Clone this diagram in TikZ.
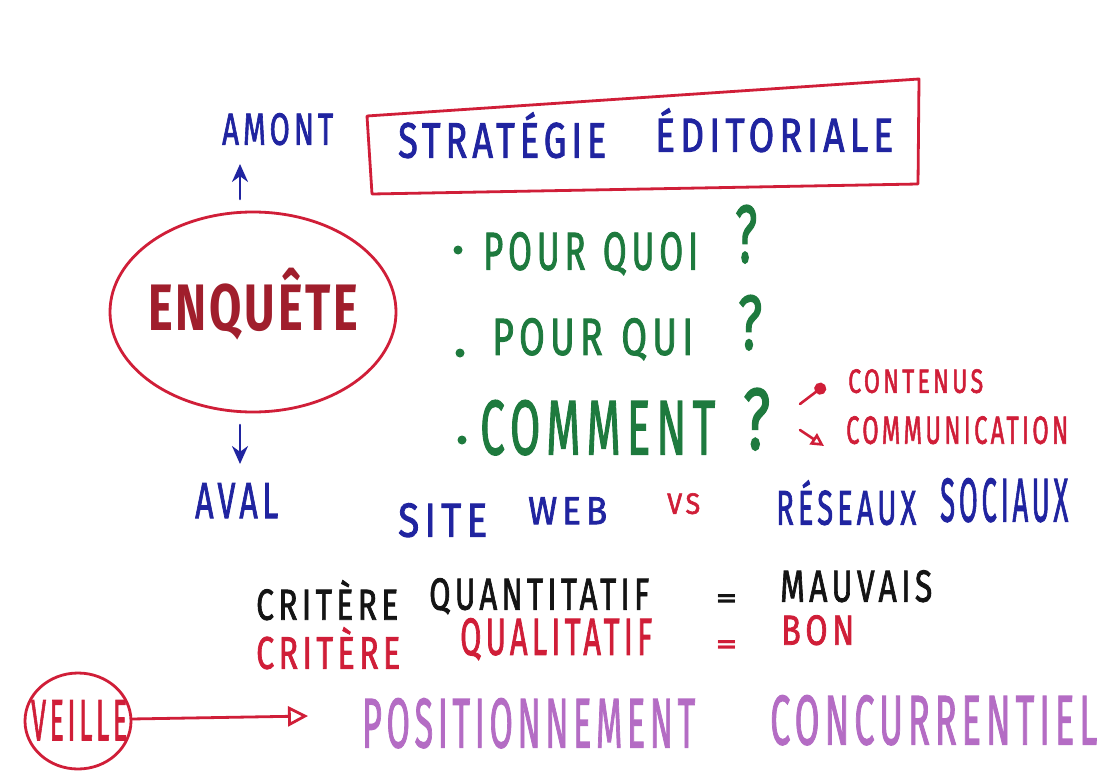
\documentclass[tikz,border=0pt]{standalone}
\usepackage{fontspec}
\setmainfont{Fira Sans}
\newfontfamily\hand[LetterSpace=14, FakeBold=2]{Fira Sans}
\newfontfamily\handbold[LetterSpace=6]{Fira Sans Bold}
\usetikzlibrary{arrows.meta}
\definecolor{mblue}{RGB}{32,36,160}
\definecolor{mred}{RGB}{208,30,56}
\definecolor{mdred}{RGB}{160,30,44}
\definecolor{mgreen}{RGB}{30,122,62}
\definecolor{mpurple}{RGB}{180,108,196}
\definecolor{mblack}{RGB}{20,20,20}
\newcommand\fitt[3]{\resizebox*{#1pt}{#2pt}{\hand #3}}
\newcommand\fittb[3]{\resizebox*{#1pt}{#2pt}{\handbold #3}}
\tikzset{
  txt/.style={inner sep=0pt, anchor=north west},
  pen/.style={line width=2.8pt, line cap=round, line join=round},
  thinpen/.style={line width=2.6pt, line cap=round, line join=round},
}
\begin{document}
\begin{tikzpicture}[x=1pt,y=-1pt]
\useasboundingbox[fill=white] (0,0) rectangle (1110,781);

% ---------- top: box and AMONT
\node[txt, text=mblue] (amont) at (222,113) {\fitt{111}{32}{AMONT}};
\draw[pen, mred] (367,116) -- (919,79) -- (918,184) -- (372,194) -- cycle;
\node[txt, text=mblue] (strat) at (398,112) {\fitt{208}{46}{STRATÉGIE}};
\node[txt, text=mblue] (edit) at (655,108) {\fitt{238}{44}{ÉDITORIALE}};

% ---------- ENQUETE
\draw[pen, mred] (253,312) ellipse [x radius=143, y radius=100];
\node[txt, text=mdred] (enq) at (148,268) {\fittb{210}{72}{ENQUÊTE}};
\coordinate (up1) at (240,199);
\coordinate (up2) at (240,164);
\coordinate (dn1) at (240,425);
\coordinate (dn2) at (240,464);
\draw[thinpen, mblue, -{Stealth[length=18pt,width=16pt]}] (up1) -- (up2);
\draw[thinpen, mblue, -{Stealth[length=18pt,width=16pt]}] (dn1) -- (dn2);
\node[txt, text=mblue] (aval) at (195,483) {\fitt{83}{35}{AVAL}};

% ---------- questions
\fill[mgreen] (458,250) circle (4.5);
\fill[mgreen] (460,353) circle (4.5);
\fill[mgreen] (462,440) circle (4.5);
\node[txt, text=mgreen] (pq1) at (483,232) {\fitt{215}{43}{POUR\hspace{0.5em}QUOI}};
\node[txt, text=mgreen] (q1) at (735,205) {\fitt{22}{58}{?}};
\node[txt, text=mgreen] (pq2) at (492,318) {\fitt{201}{42}{POUR\hspace{0.5em}QUI}};
\node[txt, text=mgreen] (q2) at (738,295) {\fitt{24}{55}{?}};
\node[txt, text=mgreen] (pq3) at (480,400) {\fitt{235}{55}{COMMENT}};
\node[txt, text=mgreen] (q3) at (743,388) {\fitt{27}{62}{?}};

\node[txt, text=mred] (cont) at (848,369) {\fitt{135}{24}{CONTENUS}};
\node[txt, text=mred] (comm) at (846,416) {\fitt{222}{28}{COMMUNICATION}};
\coordinate (ra1) at (800,404);
\coordinate (ra2) at (825,385);
\coordinate (rb1) at (800,430);
\coordinate (rb2) at (824,446);
\draw[thinpen, mred, -{Circle[length=12pt]}] (ra1) -- (ra2);
\draw[thinpen, mred, -{Triangle[open,length=13pt,width=13pt]}] (rb1) -- (rb2);

% ---------- site web vs reseaux
\node[txt, text=mblue] (site) at (398,503) {\fitt{89}{34}{SITE}};
\node[txt, text=mblue] (web) at (528,497) {\fitt{79}{27}{WEB}};
\node[txt, text=mred] (vs) at (667,493) {\fitt{33}{21}{VS}};
\node[txt, text=mblue] (res) at (776,480) {\fitt{140}{45}{RÉSEAUX}};
\node[txt, text=mblue] (soc) at (940,478) {\fitt{128}{44}{SOCIAUX}};

% ---------- criteres
\node[txt, text=mblack] (cr1) at (256,580) {\fitt{142}{40}{CRITÈRE}};
\node[txt, text=mblack] (qt) at (429,578) {\fitt{220}{36}{QUANTITATIF}};
\node[txt, text=mblack] (eq1) at (716,594) {\fittb{21}{13}{=}};
\node[txt, text=mblack] (mv) at (780,570) {\fitt{152}{32}{MAUVAIS}};
\node[txt, text=mred] (cr2) at (256,627) {\fitt{144}{42}{CRITÈRE}};
\node[txt, text=mred] (ql) at (460,618) {\fitt{192}{42}{QUALITATIF}};
\node[txt, text=mred] (eq2) at (716,640) {\fittb{21}{13}{=}};
\node[txt, text=mred] (bon) at (781,615) {\fitt{73}{30}{BON}};

% ---------- veille
\draw[pen, mred] (78,721) ellipse [x radius=53, y radius=48];
\node[txt, text=mred] (veille) at (31,700) {\fitt{96}{40}{VEILLE}};
\node[txt, text=mpurple] (pos) at (362,698) {\fitt{333}{50}{POSITIONNEMENT}};
\node[txt, text=mpurple] (conc) at (770,695) {\fitt{327}{50}{CONCURRENTIEL}};
\coordinate (vend) at (131,719);
\coordinate (pend) at (308,716);
\draw[pen, mred, -{Triangle[open,length=20pt,width=20pt]}] (vend) -- (pend);
\end{tikzpicture}
\end{document}
